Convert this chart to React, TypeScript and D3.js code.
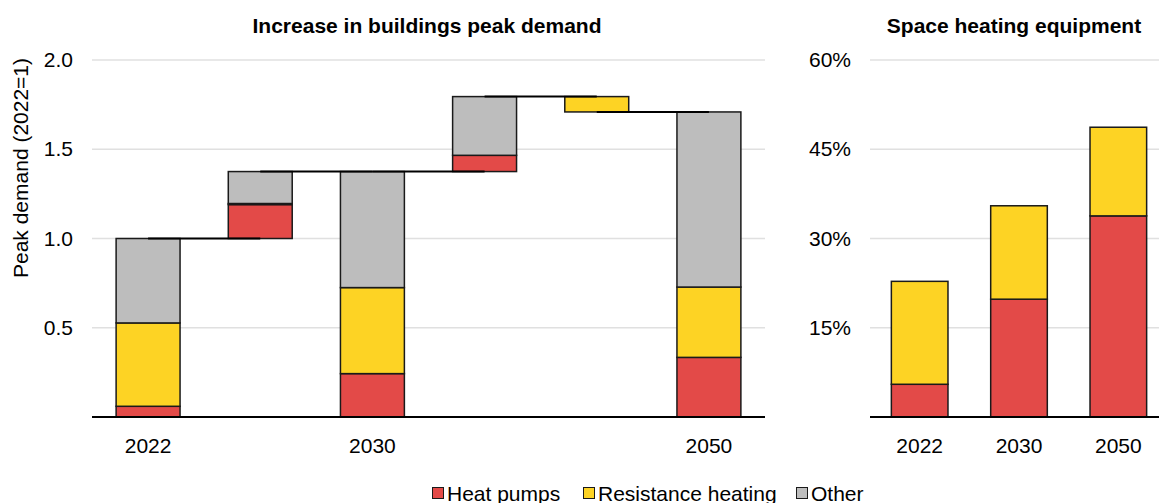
import React from "react";
import * as d3 from "d3";

const steps = ["2022", "hp", "2030", "inc", "dec", "2050"];
const stepLabels = ["2022", "", "2030", "", "", "2050"];
// [heat pumps, resistance heating, other] for each step; increments for step bars
const heatPumps = [0.06, 0.19, 0.243, 0.091, 0, 0.334];
const resistance = [0.467, 0.006, 0.482, 0, -0.086, 0.394];
const other = [0.473, 0.179, 0.65, 0.329, 0, 0.981];
const isTotal = [true, false, true, false, false, true];
const leftTicks = [0.5, 1.0, 1.5, 2.0];

const equipYears = ["2022", "2030", "2050"];
const equipHeatPumps = [5.5, 19.8, 33.8];
const equipResistance = [17.3, 15.7, 14.9];
const rightTicks = [15, 30, 45, 60];

const seriesNames = ["Heat pumps", "Resistance heating", "Other"];
const colors = ["#E34A48", "#FDD324", "#BDBDBD"];

const FONT = "'Liberation Sans', Arial, sans-serif";

export default function App() {
  const W = 1159, H = 503;
  const top = 60, bottom = 417;
  const yL = d3.scaleLinear().domain([0, 2]).range([bottom, top]);
  const xL = d3.scaleBand().domain(steps).range([92, 765]).paddingInner(0.43).paddingOuter(0.215);
  const yR = d3.scaleLinear().domain([0, 60]).range([bottom, top]);
  const xR = d3.scaleBand().domain(equipYears).range([870, 1168]).paddingInner(0.43).paddingOuter(0.215);

  const segs: { x: number; y0: number; y1: number; c: string; k: string }[] = [];
  const levels: number[] = [];
  let cum = 0;
  steps.forEach((s, i) => {
    const vals = [heatPumps[i], resistance[i], other[i]];
    let base = isTotal[i] ? 0 : cum;
    vals.forEach((v, j) => {
      if (v === 0) return;
      segs.push({ x: xL(s)!, y0: base, y1: base + v, c: colors[j], k: s + j });
      base += v;
    });
    cum = base;
    levels.push(cum);
  });

  const bwL = xL.bandwidth();
  const bwR = xR.bandwidth();
  const FS = 21;

  return (
    <svg width={W} height={H} style={{ position: "absolute", left: 0, top: 0 }} fontFamily={FONT}>
      <rect width={W} height={H} fill="#fff" />
      <text x={427} y={33} textAnchor="middle" fontWeight="bold" fontSize={FS}>Increase in buildings peak demand</text>
      <text x={1014} y={33} textAnchor="middle" fontWeight="bold" fontSize={FS}>Space heating equipment</text>
      <text transform={`translate(28,168) rotate(-90)`} textAnchor="middle" fontSize={FS}>Peak demand (2022=1)</text>

      {leftTicks.map((t) => (
        <g key={t}>
          <line x1={92} x2={765} y1={yL(t)} y2={yL(t)} stroke="#e0e0e0" strokeWidth={1.5} />
          <text x={73} y={yL(t) + 7} textAnchor="end" fontSize={FS}>{t.toFixed(1)}</text>
        </g>
      ))}
      {segs.map((s) => (
        <rect key={s.k} x={s.x} width={bwL} y={yL(Math.max(s.y0, s.y1))} height={Math.abs(yL(s.y0) - yL(s.y1))}
          fill={s.c} stroke="#1a1a1a" strokeWidth={1.5} />
      ))}
      {steps.slice(0, -1).map((s, i) => (
        <line key={"c" + i} x1={xL(s)! + bwL / 2} x2={xL(steps[i + 1])! + bwL / 2}
          y1={yL(levels[i])} y2={yL(levels[i])} stroke="#000" strokeWidth={2} />
      ))}
      <line x1={92} x2={765} y1={bottom} y2={bottom} stroke="#000" strokeWidth={2} />
      {steps.map((s, i) => stepLabels[i] ? (
        <text key={"xl" + s} x={xL(s)! + bwL / 2} y={453} textAnchor="middle" fontSize={FS}>{stepLabels[i]}</text>
      ) : null)}

      {rightTicks.map((t) => (
        <g key={"r" + t}>
          <line x1={870} x2={W} y1={yR(t)} y2={yR(t)} stroke="#e0e0e0" strokeWidth={1.5} />
          <text x={851} y={yR(t) + 7} textAnchor="end" fontSize={FS}>{t}%</text>
        </g>
      ))}
      {equipYears.map((yr, i) => (
        <g key={"b" + yr}>
          <rect x={xR(yr)} width={bwR} y={yR(equipHeatPumps[i])} height={bottom - yR(equipHeatPumps[i])}
            fill={colors[0]} stroke="#1a1a1a" strokeWidth={1.5} />
          <rect x={xR(yr)} width={bwR} y={yR(equipHeatPumps[i] + equipResistance[i])}
            height={yR(equipHeatPumps[i]) - yR(equipHeatPumps[i] + equipResistance[i])}
            fill={colors[1]} stroke="#1a1a1a" strokeWidth={1.5} />
          <text x={xR(yr)! + bwR / 2} y={453} textAnchor="middle" fontSize={FS}>{yr}</text>
        </g>
      ))}
      <line x1={870} x2={W} y1={bottom} y2={bottom} stroke="#000" strokeWidth={2} />

      {(() => {
        const xs = [432, 583, 796];
        return seriesNames.map((n, i) => (
          <g key={n}>
            <rect x={xs[i] + 0.5} y={487.5} width={11} height={11} fill={colors[i]} stroke="#1a1a1a" strokeWidth={1} />
            <text x={xs[i] + 15} y={501} fontSize={FS}>{n}</text>
          </g>
        ));
      })()}
    </svg>
  );
}
